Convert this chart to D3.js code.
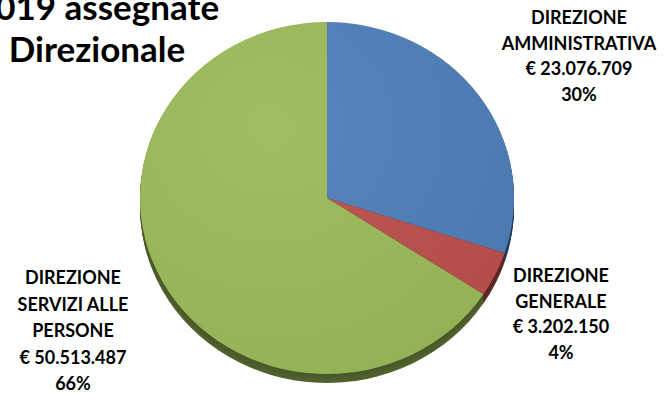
<!DOCTYPE html>
<html>
<head>
<meta charset="utf-8">
<script src="https://cdn.jsdelivr.net/npm/d3@7"></script>
<style>
  html, body { margin: 0; padding: 0; background: #ffffff; }
  svg { display: block; }
  text { font-family: Lato, "Open Sans", sans-serif; font-weight: bold; fill: #000; }
</style>
</head>
<body>
<svg id="chart" width="666" height="395"></svg>
<script>
// ---- data ----
const titleLines = ["2019 assegnate", "Direzionale"];
const categories = ["DIREZIONE AMMINISTRATIVA", "DIREZIONE GENERALE", "DIREZIONE SERVIZI ALLE PERSONE"];
const labelLines = [["DIREZIONE", "AMMINISTRATIVA"], ["DIREZIONE", "GENERALE"], ["DIREZIONE", "SERVIZI ALLE", "PERSONE"]];
const values = [23076709, 3202150, 50513487];
const colors = ["#4f7fb8", "#bb504d", "#9bbb59"];

// ---- layout ----
const W = 666, H = 395;
const cx = 327, cy = 198, rx = 187, ry = 176, depth = 9;
const labelPos = [
  { x: 579, y: 24, lh: 25.5 },
  { x: 561, y: 282, lh: 25.5 },
  { x: 73, y: 284, lh: 26.5 }
];

const it = d3.formatLocale({ decimal: ",", thousands: ".", grouping: [3], currency: ["€ ", ""] });
const fmtMoney = it.format("$,.0f");
const total = d3.sum(values);
const fmtPct = v => Math.round(v / total * 100) + "%";

const svg = d3.select("#chart");
svg.append("rect").attr("width", W).attr("height", H).attr("fill", "#fff");

const pieData = d3.pie().sort(null).value(d => d)(values);
const arcGen = d3.arc().innerRadius(0).outerRadius(rx);

const defs = svg.append("defs");
const grad = defs.append("radialGradient").attr("id", "shine")
  .attr("cx", "35%").attr("cy", "30%").attr("r", "80%");
grad.append("stop").attr("offset", "0%").attr("stop-color", "#fff").attr("stop-opacity", 0.05);
grad.append("stop").attr("offset", "100%").attr("stop-color", "#000").attr("stop-opacity", 0.05);

// side (3D depth)
for (let k = depth; k >= 1; k--) {
  const g = svg.append("g")
    .attr("transform", `translate(${cx},${cy + k}) scale(1,${ry / rx})`);
  g.selectAll("path").data(pieData).join("path")
    .attr("d", arcGen)
    .attr("fill", (d, i) => d3.color(colors[i]).darker(2.2 - k * 0.05));
}

// top face
const face = svg.append("g")
  .attr("transform", `translate(${cx},${cy}) scale(1,${ry / rx})`);
face.selectAll("path.slice").data(pieData).join("path")
  .attr("class", "slice")
  .attr("d", arcGen)
  .attr("fill", (d, i) => colors[i]);
face.append("circle").attr("r", rx).attr("fill", "url(#shine)");

// labels
labelLines.forEach((lines, i) => {
  const all = lines.concat([fmtMoney(values[i]), fmtPct(values[i])]);
  const t = svg.append("text")
    .attr("text-anchor", "middle")
    .attr("font-size", 18);
  all.forEach((s, j) => {
    t.append("tspan")
      .attr("x", labelPos[i].x)
      .attr("y", labelPos[i].y + j * labelPos[i].lh)
      .text(s);
  });
});

// title (clipped at the left/top edge, as in the original)
const title = svg.append("text")
  .attr("text-anchor", "middle")
  .attr("font-size", 35);
titleLines.forEach((s, j) => {
  title.append("tspan").attr("x", 97).attr("y", 20 + j * 42).text(s);
});
</script>
</body>
</html>
